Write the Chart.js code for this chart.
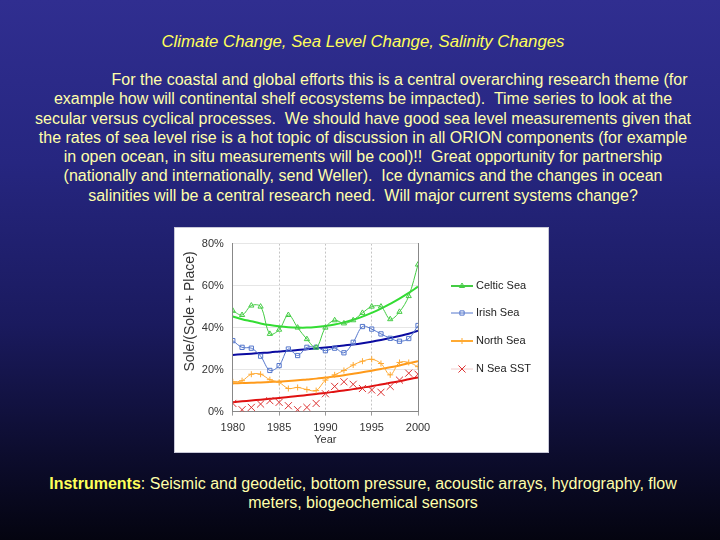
<!DOCTYPE html>
<html>
<head>
<meta charset="utf-8">
<script src="https://cdn.jsdelivr.net/npm/chart.js@4.4.1/dist/chart.umd.min.js"></script>
<style>
  html, body { margin: 0; padding: 0; }
  body {
    width: 720px; height: 540px; overflow: hidden; position: relative;
    background: linear-gradient(to bottom, #302e90 0%, #262680 30%, #1a1a5e 60%, #0c0c2c 85%, #040410 100%);
    font-family: "Liberation Sans", Arial, sans-serif;
  }
  .title {
    position: absolute; left: 0; width: 726px; top: 32px; text-align: center;
    font-style: italic; font-size: 16.8px; color: #ffff5a; white-space: nowrap;
  }
  .para {
    position: absolute; left: 0; width: 726px; top: 70px; text-align: center;
    font-size: 16px; line-height: 19.3px; color: #ffffaa; white-space: nowrap;
  }
  .indent { display: inline-block; width: 73px; }
  .box {
    position: absolute; left: 175px; top: 228px; width: 373px; height: 224px;
    background: #fff; box-shadow: 0 0 0 1px #c8c8d8;
  }
  .foot {
    position: absolute; left: 0; width: 726px; top: 474px; text-align: center;
    font-size: 16px; line-height: 19.3px; color: #ffffaa; white-space: nowrap;
  }
  .foot b { color: #ffff5a; font-weight: bold; }
</style>
</head>
<body>
<div class="title">Climate Change, Sea Level Change, Salinity Changes</div>
<div class="para"><span class="indent"></span>For the coastal and global efforts this is a central overarching research theme (for<br>example how will continental shelf ecosystems be impacted).&nbsp; Time series to look at the<br>secular versus cyclical processes.&nbsp; We should have good sea level measurements given that<br>the rates of sea level rise is a hot topic of discussion in all ORION components (for example<br>in open ocean, in situ measurements will be cool)!!&nbsp; Great opportunity for partnership<br>(nationally and internationally, send Weller).&nbsp; Ice dynamics and the changes in ocean<br>salinities will be a central research need.&nbsp; Will major current systems change?</div>
<div class="box"><canvas id="chart" width="373" height="224"></canvas></div>
<div class="foot"><b>Instruments</b>: Seismic and geodetic, bottom pressure, acoustic arrays, hydrography, flow<br>meters, biogeochemical sensors</div>

<script>
// --- Data ---
const years = [1980, 1981, 1982, 1983, 1984, 1985, 1986, 1987, 1988, 1989, 1990,
               1991, 1992, 1993, 1994, 1995, 1996, 1997, 1998, 1999, 2000];
const xTicks = [1980, 1985, 1990, 1995, 2000];
const yTicks = [0, 20, 40, 60, 80];

const celtic      = [48, 46, 50.5, 50, 37, 39, 46, 40, 34.5, 30.5, 40, 43.5, 42, 43.5, 47, 50, 50, 44, 47.5, 55, 70];
const celticTrend = [45.3, 44, 43, 42, 41.2, 40.6, 40.2, 40, 40, 40.3, 40.8, 41.5, 42.5, 43.7, 45.2, 47, 49, 51.3, 53.8, 56.5, 59.5];
const irish       = [33.8, 30.6, 30.2, 26.4, 19.6, 21.9, 29.8, 26.7, 30.6, 30.6, 29, 30.2, 28, 33, 40.5, 39.3, 37, 34.9, 33.5, 34.8, 41];
const irishTrend  = [27, 27.3, 27.6, 27.9, 28.2, 28.6, 29, 29.3, 29.7, 30.1, 30.5, 31, 31.5, 32, 32.6, 33.3, 34.1, 35, 36, 37.1, 38.5];
const north       = [14.2, 14.7, 17.8, 17.8, 15.2, 13.9, 11, 11.5, 10.5, 10, 15, 17.5, 19.6, 22.2, 24, 24.9, 22.9, 17.5, 23.4, 23.4, 21.4];
const northTrend  = [13.5, 13.6, 13.7, 13.9, 14.1, 14.3, 14.6, 14.9, 15.3, 15.7, 16.2, 16.7, 17.3, 18, 18.7, 19.5, 20.3, 21.1, 22, 23, 24];
const sst         = [3.9, 0.9, 2, 3.6, 5.2, 4.4, 2.8, 0.9, 2, 3.9, 8.5, 12, 14.2, 13, 11, 10.3, 9.2, 12, 15, 18.3, 17.8];
const sstTrend    = [4.5, 4.9, 5.3, 5.7, 6.1, 6.5, 7, 7.4, 7.9, 8.4, 8.9, 9.5, 10.1, 10.7, 11.4, 12.1, 12.9, 13.7, 14.5, 15.4, 16.3];

const toXY = arr => arr.map((v, i) => ({ x: years[i], y: v }));
const FONT = '"Liberation Sans", Arial, sans-serif';

// --- Series styles ---
const series = [
  { label: 'Celtic Sea', data: celtic, trend: celticTrend, color: '#44cc44', trendColor: '#33dd33', point: 'triangle', lineW: 1, legW: 2 },
  { label: 'Irish Sea',  data: irish,  trend: irishTrend,  color: '#5577cc', trendColor: '#0a0aa0', point: 'rect',     lineW: 1, legW: 1 },
  { label: 'North Sea',  data: north,  trend: northTrend,  color: '#ffaa33', trendColor: '#ff9a1a', point: 'cross',    lineW: 1, legW: 2 },
  { label: 'N Sea SST',  data: sst,    trend: sstTrend,    color: '#dd3333', trendColor: '#e01010', point: 'crossRot', lineW: 0, legW: 1 }
];

const datasets = [];
series.forEach(s => {
  datasets.push({
    label: s.label,
    data: toXY(s.data),
    borderColor: s.lineW ? s.color : 'rgba(0,0,0,0)',
    borderWidth: s.lineW,
    tension: 0.35,
    pointStyle: s.point,
    pointRadius: s.point === 'crossRot' ? 5 : 3,
    pointBorderColor: s.color,
    pointBackgroundColor: 'rgba(255,255,255,0)',
    pointBorderWidth: 1
  });
  datasets.push({
    label: s.label + ' trend',
    data: toXY(s.trend),
    borderColor: s.trendColor,
    borderWidth: 2,
    tension: 0.4,
    pointRadius: 0
  });
});

// --- Custom legend to the right of the plot ---
const sideLegend = {
  id: 'sideLegend',
  afterDraw(chart) {
    const ctx = chart.ctx;
    const rowY = [58, 85, 113, 141];
    ctx.save();
    ctx.font = '11px ' + FONT;
    ctx.textBaseline = 'middle';
    series.forEach((s, i) => {
      const y = rowY[i];
      ctx.strokeStyle = s.lineW ? s.color : '#f2cccc';
      ctx.lineWidth = s.legW;
      ctx.beginPath();
      ctx.moveTo(276, y);
      ctx.lineTo(298, y);
      ctx.stroke();
      ctx.strokeStyle = s.color;
      ctx.fillStyle = 'rgba(255,255,255,0)';
      ctx.lineWidth = 1;
      Chart.helpers.drawPoint(ctx, {
        pointStyle: s.point, radius: s.point === 'crossRot' ? 5 : 3, rotation: 0, borderWidth: 1
      }, 287, y);
      ctx.fillStyle = '#222';
      ctx.fillText(s.label, 301, y);
    });
    ctx.restore();
  }
};

new Chart(document.getElementById('chart'), {
  type: 'line',
  data: { datasets },
  plugins: [sideLegend],
  options: {
    responsive: false,
    animation: false,
    layout: { padding: { left: 7, right: 130, top: 14, bottom: 5 } },
    plugins: { legend: { display: false }, tooltip: { enabled: false } },
    scales: {
      x: {
        type: 'linear', min: 1980, max: 2000,
        afterBuildTicks: axis => { axis.ticks = xTicks.map(v => ({ value: v })); },
        ticks: { color: '#333', callback: v => String(v), font: { family: FONT, size: 11 }, padding: 6, maxRotation: 0 },
        grid: { color: '#c4c4c4', tickLength: 4, tickColor: '#999', tickBorderDash: [] },
        border: { color: '#888', dash: [2, 2] },
        title: { display: true, text: 'Year', color: '#333', font: { family: FONT, size: 11 }, padding: { top: -7, bottom: 0 } }
      },
      y: {
        min: 0, max: 80,
        afterBuildTicks: axis => { axis.ticks = yTicks.map(v => ({ value: v })); },
        ticks: { color: '#333', callback: v => v + '%', font: { family: FONT, size: 11 }, padding: 9 },
        grid: { color: '#e6e6e6', drawTicks: false },
        border: { color: '#888' },
        title: { display: true, text: 'Sole/(Sole + Place)\u00a0\u00a0', align: 'end', color: '#333', font: { family: FONT, size: 14 }, padding: { top: 0, bottom: -6 } }
      },
      yRight: {
        position: 'right', min: 0, max: 80,
        ticks: { display: false },
        grid: { drawOnChartArea: false, drawTicks: false },
        border: { color: '#888' }
      }
    }
  }
});
</script>
</body>
</html>
